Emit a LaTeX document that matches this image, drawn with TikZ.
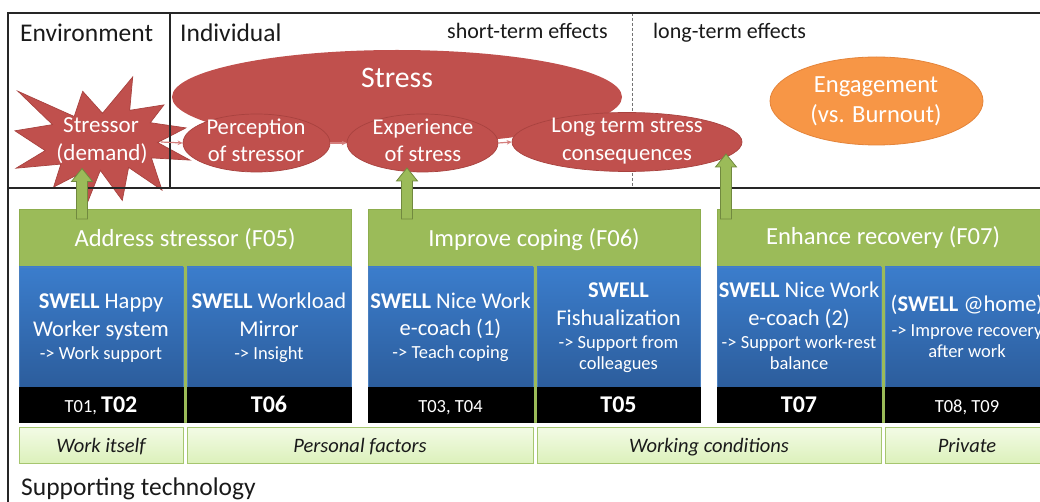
\documentclass[tikz,border=0pt]{standalone}
\usepackage{fontspec}
\setmainfont{Carlito}
\usetikzlibrary{shapes.geometric,arrows.meta}
\definecolor{stressred}{HTML}{C0504D}
\definecolor{stressline}{HTML}{A8423F}
\definecolor{connpink}{HTML}{D47E7C}
\definecolor{engorange}{HTML}{F79646}
\definecolor{engline}{HTML}{E4843A}
\definecolor{grn}{HTML}{9BBB59}
\definecolor{grnline}{HTML}{8DAD4D}
\definecolor{garrline}{HTML}{71893F}
\definecolor{bluetop}{HTML}{3B7DCC}
\definecolor{bluebot}{HTML}{2C5D9C}
\definecolor{blueline}{HTML}{4A7FBF}
\definecolor{cattop}{HTML}{F3FBE6}
\definecolor{catbot}{HTML}{DCF1BB}
\definecolor{catline}{HTML}{A6C66F}
\definecolor{textdark}{HTML}{1A1A1A}
\newcommand\fsz[1]{\fontsize{#1}{#1}\selectfont}
\newcommand\greenarrow[3]{%
  \draw[garr] (#1-5.5,#3) -- (#1-5.5,#2+13) -- (#1-10.5,#2+13) -- (#1,#2)
    -- (#1+10.5,#2+13) -- (#1+5.5,#2+13) -- (#1+5.5,#3) -- cycle;}
\begin{document}
\begin{tikzpicture}[x=1pt,y=-1pt,
  frameline/.style={draw=black!85, line width=1.1pt},
  ell/.style={ellipse, inner sep=0pt, fill=stressred, draw=stressline, line width=0.7pt},
  lbl/.style={inner sep=0pt, anchor=base, text=textdark},
  wlbl/.style={inner sep=0pt, anchor=base, text=white},
  conn/.style={draw=connpink, line width=1.2pt, -{Stealth[length=5pt,width=4.5pt]}},
  greenbox/.style={rectangle, inner sep=0pt, fill=grn, draw=grnline, line width=0.8pt},
  bluebox/.style={rectangle, inner sep=0pt, top color=bluetop, bottom color=bluebot, draw=blueline, line width=0.8pt},
  blackbox/.style={rectangle, inner sep=0pt, fill=black, draw=black},
  catbox/.style={rectangle, inner sep=0pt, top color=cattop, bottom color=catbot, draw=catline, line width=1pt},
  garr/.style={fill=grn, draw=garrline, line width=0.8pt},
  big/.style={font=\fsz{22.5}},
  small/.style={font=\fsz{18.5}},
]
\useasboundingbox (0,0) rectangle (1040,502);
\clip (0,0) rectangle (1040,502);
\fill[white] (0,0) rectangle (1040,502);

% dashed separator (behind shapes)
\draw[draw=black!55, line width=1pt, dash pattern=on 3pt off 2pt] (632,13) -- (632,188);

% Stress ellipse and stages
\node[ell, draw=none, minimum width=450pt, minimum height=94pt] (stress) at (397,97) {};
\node[ell, minimum width=147pt, minimum height=58pt] (perc) at (256.5,143) {};
\node[ell, minimum width=151pt, minimum height=58pt] (exper) at (422.5,143) {};
\node[ell, minimum width=230pt, minimum height=59pt] (longt) at (627,142) {};
\node[ellipse, inner sep=0pt, fill=engorange, draw=engline, line width=0.8pt,
      minimum width=213pt, minimum height=88pt] (engage) at (876.5,101) {};

% Stressor explosion
\draw[fill=stressred, draw=stressline, line width=0.7pt]
  (102.5,113.3) -- (132.7,77) -- (129.7,110.3) -- (163.9,104.9) -- (150.3,122.7)
  -- (185.9,127.9) -- (157.6,142.5) -- (190,160.1) -- (151.4,157.9) -- (162.0,190.1)
  -- (128.6,167.4) -- (122.3,200.4) -- (100.3,170.3) -- (83.7,212) -- (77.5,174.7)
  -- (53.6,187.1) -- (60.9,164.1) -- (16.1,168.2) -- (45.2,150.6) -- (15,130.8)
  -- (52.5,124.6) -- (18.0,91.3) -- (74.2,116.5) -- (82.7,91.3) -- cycle;

% frame lines
\draw[frameline] (8,510) -- (8,13) -- (1045,13);
\draw[frameline] (8,188) -- (1045,188);
\draw[frameline] (170,13) -- (170,188);

% connectors between stages
\coordinate (starR) at (161,142);
\draw[conn] (starR) -- (perc.west);
\draw[conn] (perc.east) -- (exper.west);
\draw[conn] (exper.east) -- (longt.west);

% green groups
\node[greenbox, minimum width=332pt, minimum height=213pt] (gA) at (185,315.5) {};
\node[greenbox, minimum width=332pt, minimum height=213pt] (gB) at (534,315.5) {};
\node[greenbox, minimum width=332pt, minimum height=213pt] (gC) at (883,315.5) {};

% blue boxes
\node[bluebox, minimum width=164pt, minimum height=120pt] (a1) at (101,327) {};
\node[bluebox, minimum width=164pt, minimum height=120pt] (a2) at (269,327) {};
\node[bluebox, minimum width=165pt, minimum height=120pt] (b1) at (450.5,327) {};
\node[bluebox, minimum width=163pt, minimum height=120pt] (b2) at (618.5,327) {};
\node[bluebox, minimum width=164pt, minimum height=120pt] (c1) at (799,327) {};
\node[bluebox, minimum width=164pt, minimum height=120pt] (c2) at (967,327) {};

% black boxes
\node[blackbox, minimum width=164pt, minimum height=35pt] (ka1) at (101,404.5) {};
\node[blackbox, minimum width=164pt, minimum height=35pt] (ka2) at (269,404.5) {};
\node[blackbox, minimum width=165pt, minimum height=35pt] (kb1) at (450.5,404.5) {};
\node[blackbox, minimum width=163pt, minimum height=35pt] (kb2) at (618.5,404.5) {};
\node[blackbox, minimum width=164pt, minimum height=35pt] (kc1) at (799,404.5) {};
\node[blackbox, minimum width=164pt, minimum height=35pt] (kc2) at (967,404.5) {};

% category boxes
\node[catbox, minimum width=164pt, minimum height=36pt] (cat1) at (101,445) {};
\node[catbox, minimum width=346pt, minimum height=36pt] (cat2) at (360,445) {};
\node[catbox, minimum width=344pt, minimum height=36pt] (cat3) at (709,445) {};
\node[catbox, minimum width=164pt, minimum height=36pt] (cat4) at (967,445) {};

% green block arrows
\greenarrow{82}{168.5}{219}
\greenarrow{407}{168}{219}
\greenarrow{726}{154}{219}

% header texts
\node[lbl, anchor=base west, font=\fsz{25.5}] (tenv) at (20,42) {Environment};
\node[lbl, anchor=base west, font=\fsz{25.5}] (tind) at (180,42) {Individual};
\node[lbl, anchor=base west, font=\fsz{22}] (tshort) at (447,39) {short-term effects};
\node[lbl, anchor=base west, font=\fsz{22}] (tlong) at (653,39) {long-term effects};

% red shapes texts
\node[wlbl, font=\fsz{29.8}] (tstress) at (397,88) {Stress};
\node[wlbl, font=\fsz{23}] (tstar1) at (101,133) {Stressor};
\node[wlbl, font=\fsz{23}] (tstar2) at (102,161) {(demand)};
\node[wlbl, font=\fsz{22.6}] (tperc1) at (256,135) {Perception};
\node[wlbl, font=\fsz{22.6}] (tperc2) at (256,162) {of stressor};
\node[wlbl, font=\fsz{22.6}] (texp1) at (423,135) {Experience};
\node[wlbl, font=\fsz{22.6}] (texp2) at (423,162) {of stress};
\node[wlbl, font=\fsz{22.6}] (tlt1) at (627,133) {Long term stress};
\node[wlbl, font=\fsz{22.6}] (tlt2) at (627,161) {consequences};
\node[wlbl, font=\fsz{24.6}] (teng1) at (876,93) {Engagement};
\node[wlbl, font=\fsz{24.6}] (teng2) at (876,123) {(vs. Burnout)};

% green headers
\node[wlbl, font=\fsz{24.6}] (thA) at (185,247) {Address stressor (F05)};
\node[wlbl, font=\fsz{24.6}] (thB) at (534,247) {Improve coping (F06)};
\node[wlbl, font=\fsz{24.6}] (thC) at (883,245) {Enhance recovery (F07)};

% blue box texts
\node[wlbl, big] (ta1a) at (101,308) {\textbf{SWELL} Happy};
\node[wlbl, big] (ta1b) at (101,336) {Worker system};
\node[wlbl, small] (ta1c) at (101,359) {-> Work support};
\node[wlbl, big] (ta2a) at (269,308) {\textbf{SWELL} Workload};
\node[wlbl, big] (ta2b) at (269,336) {Mirror};
\node[wlbl, small] (ta2c) at (269,359) {-> Insight};
\node[wlbl, big] (tb1a) at (450.5,308) {\textbf{SWELL} Nice Work};
\node[wlbl, big] (tb1b) at (450.5,335) {e-coach (1)};
\node[wlbl, small] (tb1c) at (450.5,358) {-> Teach coping};
\node[wlbl, big] (tb2a) at (618.5,298) {\textbf{SWELL}};
\node[wlbl, big] (tb2b) at (618.5,325) {Fishualization};
\node[wlbl, small] (tb2c) at (618.5,348) {-> Support from};
\node[wlbl, small] (tb2d) at (618.5,369) {colleagues};
\node[wlbl, big] (tc1a) at (799,298) {\textbf{SWELL} Nice Work};
\node[wlbl, big] (tc1b) at (799,325) {e-coach (2)};
\node[wlbl, small] (tc1c) at (799,348) {-> Support work-rest};
\node[wlbl, small] (tc1d) at (799,369) {balance};
\node[wlbl, big] (tc2a) at (967,312) {(\textbf{SWELL} @home)};
\node[wlbl, small] (tc2b) at (967,336) {-> Improve recovery};
\node[wlbl, small] (tc2c) at (967,357) {after work};

% T labels
\node[wlbl, font=\fsz{18.5}] (tka1) at (101,412) {T01, {\fsz{24}\bfseries T02}};
\node[wlbl, font=\fsz{24}\bfseries] (tka2) at (269,412) {T06};
\node[wlbl, font=\fsz{18.5}] (tkb1) at (450.5,412) {T03, T04};
\node[wlbl, font=\fsz{24}\bfseries] (tkb2) at (618.5,412) {T05};
\node[wlbl, font=\fsz{24}\bfseries] (tkc1) at (799,412) {T07};
\node[wlbl, font=\fsz{18.5}] (tkc2) at (967,412) {T08, T09};

% category texts
\node[lbl, font=\fsz{20.5}\itshape] (tcat1) at (101,452) {Work itself};
\node[lbl, font=\fsz{20.5}\itshape] (tcat2) at (360,452) {Personal factors};
\node[lbl, font=\fsz{20.5}\itshape] (tcat3) at (709,452) {Working conditions};
\node[lbl, font=\fsz{20.5}\itshape] (tcat4) at (967,452) {Private};

\node[lbl, anchor=base west, font=\fsz{25.5}] (tsupp) at (21,495) {Supporting technology};
\end{tikzpicture}
\end{document}
